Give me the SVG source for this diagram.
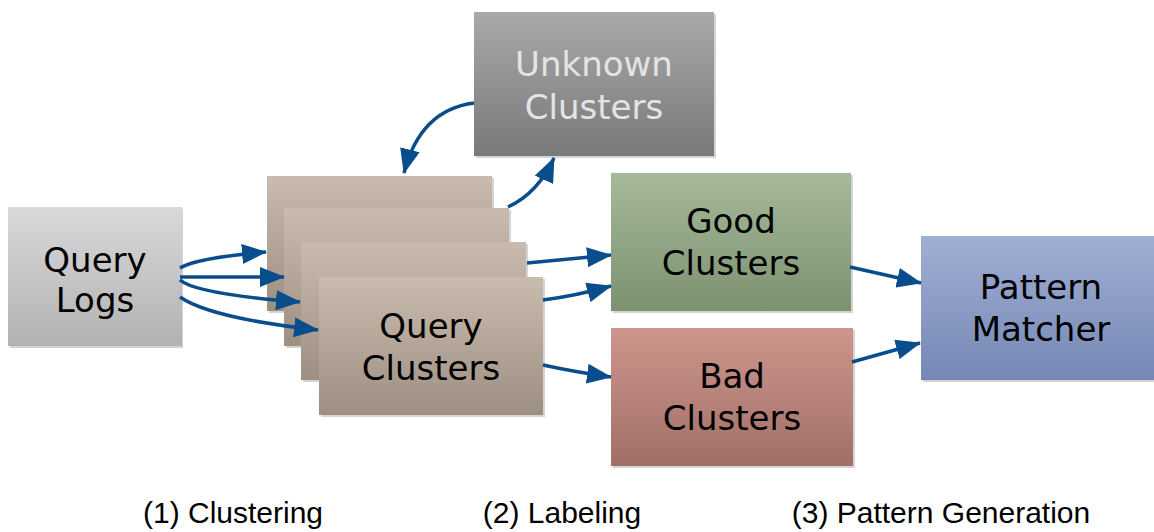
<svg xmlns="http://www.w3.org/2000/svg" width="1154" height="532" viewBox="0 0 1154 532">
  <defs>
    <linearGradient id="gLogs" x1="0" y1="0" x2="0" y2="1">
      <stop offset="0" stop-color="#d9d9d9"/>
      <stop offset="1" stop-color="#b2b2b2"/>
    </linearGradient>
    <linearGradient id="gStack" x1="0" y1="0" x2="0" y2="1">
      <stop offset="0" stop-color="#c9bbad"/>
      <stop offset="1" stop-color="#9d9083"/>
    </linearGradient>
    <linearGradient id="gUnknown" x1="0" y1="0" x2="0" y2="1">
      <stop offset="0" stop-color="#a9a9a9"/>
      <stop offset="1" stop-color="#797979"/>
    </linearGradient>
    <linearGradient id="gGood" x1="0" y1="0" x2="0" y2="1">
      <stop offset="0" stop-color="#a6ba9b"/>
      <stop offset="1" stop-color="#7c9170"/>
    </linearGradient>
    <linearGradient id="gBad" x1="0" y1="0" x2="0" y2="1">
      <stop offset="0" stop-color="#cd968c"/>
      <stop offset="1" stop-color="#a16f68"/>
    </linearGradient>
    <linearGradient id="gPattern" x1="0" y1="0" x2="0" y2="1">
      <stop offset="0" stop-color="#a0afd4"/>
      <stop offset="1" stop-color="#7587b4"/>
    </linearGradient>
    <marker id="arrow" markerUnits="userSpaceOnUse" markerWidth="25" markerHeight="20" refX="24" refY="10" orient="auto">
      <path d="M0,0 L25,10 L0,20 z" fill="#0a4d8c"/>
    </marker>
  </defs>
  <style>
    .box { stroke: none; }
    .shadow { fill: #d4d4d4; }
    .lbl { font-family: "DejaVu Sans", Verdana, sans-serif; font-size: 34px; text-anchor: middle; fill: #000; }
    .lbl-light { fill: #e4e4e4; }
    .step { font-family: "Liberation Sans", Arial, Helvetica, sans-serif; font-size: 30px; text-anchor: middle; fill: #000; }
    .edge { fill: none; stroke: #0a4d8c; stroke-width: 3.5; marker-end: url(#arrow); }
  </style>
  <rect width="1154" height="532" fill="#ffffff"/>

  <!-- Query Logs -->
  <g id="query-logs">
    <rect class="shadow" x="10" y="209" width="173" height="139"/>
    <rect class="box" x="8" y="207" width="174" height="139" fill="url(#gLogs)"/>
    <text class="lbl" x="95" y="272">Query</text>
    <text class="lbl" x="95" y="312">Logs</text>
  </g>

  <!-- Stacked query clusters -->
  <g id="query-clusters">
    <rect class="shadow" x="269" y="178" width="225" height="135"/>
    <rect class="box" x="267" y="176" width="225" height="135" fill="url(#gStack)"/>
    <rect class="shadow" x="286" y="210" width="225" height="138"/>
    <rect class="box" x="284" y="208" width="225" height="138" fill="url(#gStack)"/>
    <rect class="shadow" x="303" y="244" width="225" height="138"/>
    <rect class="box" x="301" y="242" width="225" height="138" fill="url(#gStack)"/>
    <rect class="shadow" x="321" y="279" width="224" height="138"/>
    <rect class="box" x="319" y="277" width="224" height="138" fill="url(#gStack)"/>
    <text class="lbl" x="431" y="338">Query</text>
    <text class="lbl" x="431" y="380">Clusters</text>
  </g>

  <!-- Unknown Clusters -->
  <g id="unknown-clusters">
    <rect class="shadow" x="476" y="14" width="240" height="144"/>
    <rect class="box" x="474" y="12" width="240" height="144" fill="url(#gUnknown)"/>
    <text class="lbl lbl-light" x="594" y="76">Unknown</text>
    <text class="lbl lbl-light" x="594" y="119">Clusters</text>
  </g>

  <!-- Good Clusters -->
  <g id="good-clusters">
    <rect class="shadow" x="613" y="175" width="240" height="138"/>
    <rect class="box" x="611" y="173" width="240" height="138" fill="url(#gGood)"/>
    <text class="lbl" x="731" y="233">Good</text>
    <text class="lbl" x="731" y="275">Clusters</text>
  </g>

  <!-- Bad Clusters -->
  <g id="bad-clusters">
    <rect class="shadow" x="613" y="330" width="242" height="138"/>
    <rect class="box" x="611" y="328" width="242" height="138" fill="url(#gBad)"/>
    <text class="lbl" x="732" y="388">Bad</text>
    <text class="lbl" x="732" y="430">Clusters</text>
  </g>

  <!-- Pattern Matcher -->
  <g id="pattern-matcher">
    <rect class="shadow" x="923" y="238" width="233" height="144"/>
    <rect class="box" x="921" y="236" width="235" height="144" fill="url(#gPattern)"/>
    <text class="lbl" x="1041" y="299">Pattern</text>
    <text class="lbl" x="1041" y="341">Matcher</text>
  </g>

  <!-- Connectors -->
  <g id="connectors">
    <path class="edge" d="M180,268 Q196,258 266,252"/>
    <path class="edge" d="M180,277 L284,277"/>
    <path class="edge" d="M180,280 Q196,294 300,302"/>
    <path class="edge" d="M180,297 Q210,318 318,330"/>
    <path class="edge" d="M527,263 L611,255"/>
    <path class="edge" d="M543,300 Q575,296 611,286"/>
    <path class="edge" d="M543,365 Q575,372 611,377"/>
    <path class="edge" d="M850,267 L921,283"/>
    <path class="edge" d="M852,362 L920,343"/>
    <path class="edge" d="M508,207 Q538,193 554,158"/>
    <path class="edge" d="M474,103 Q420,110 404,173"/>
  </g>

  <!-- Stage captions -->
  <g id="captions">
    <text class="step" x="233" y="523">(1) Clustering</text>
    <text class="step" x="562" y="523">(2) Labeling</text>
    <text class="step" x="941" y="523">(3) Pattern Generation</text>
  </g>
</svg>
